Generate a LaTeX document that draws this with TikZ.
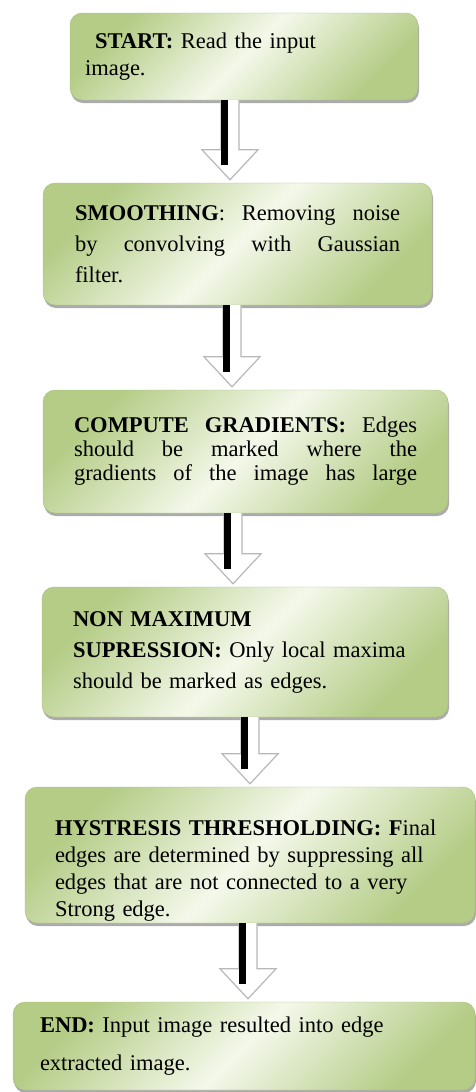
\documentclass[tikz,border=0pt]{standalone}
\usepackage{fontspec}
\setmainfont{Liberation Serif}
\usetikzlibrary{positioning}
\usetikzlibrary{calc, shadows}

\definecolor{boxgreen}{RGB}{180,204,134}
\definecolor{boxlight}{RGB}{244,248,234}
\definecolor{boxedge}{RGB}{170,190,130}

% stretch one line over a given width
\newcommand{\fullline}[2]{\leavevmode\hbox to #1{\spaceskip=0.25em plus 1fil\relax #2}}

% white block arrow with a black stroke on its shaft
\newcommand{\flowarrow}[3]{%
    \coordinate (ax) at (#3,0);
    \filldraw[arrowbody] ($(ax |- #1.south)+(-9,0)$) -- ($(ax |- #2.north)+(-9,33)$)
        -- ($(ax |- #2.north)+(-28,33)$) -- ($(ax |- #2.north)+(0,3)$)
        -- ($(ax |- #2.north)+(28,33)$) -- ($(ax |- #2.north)+(9,33)$)
        -- ($(ax |- #1.south)+(9,0)$);
    \draw[shaft] ($(ax |- #1.south)+(-5.5,0)$) -- ($(ax |- #2.north)+(-5.5,18)$);
}

\begin{document}
\begin{tikzpicture}[x=1pt, y=1pt,
    main/.style = {draw=boxedge, rounded corners=12pt, left color=boxgreen, right color=boxgreen,
        middle color=boxlight, shading angle=45, align=left, inner xsep=0pt, inner ysep=0pt,
        drop shadow={shadow xshift=1pt, shadow yshift=-3pt, fill=black!55, opacity=.6},
        font=\fontsize{22.5}{27}\selectfont},
    arrowbody/.style = {fill=white, draw=black!28, line width=1.2pt, line join=miter},
    shaft/.style = {line width=7pt, black}]
    \useasboundingbox (0,0) rectangle (476,-1092);

    \node[main, minimum width=348, minimum height=87, text width=318] (A) at (244,-56.5)
        {\hspace*{10pt}\textbf{START:} Read the input\\ image.};
    \node[main, minimum width=389, minimum height=122, text width=325,
        font=\fontsize{22.5}{31}\selectfont] (B) at (237.5,-244)
        {\fullline{325pt}{\textbf{SMOOTHING}: Removing noise}\\
         \fullline{325pt}{by convolving with Gaussian}\\ filter.};
    \node[main, minimum width=405, minimum height=123, text width=343,
        font=\fontsize{22.5}{24}\selectfont] (C) at (245.5,-451.5)
        {\fullline{343pt}{\textbf{COMPUTE GRADIENTS:} Edges}\\
         \fullline{343pt}{should be marked where the}\\
         \fullline{343pt}{gradients of the image has large}};
    \node[main, minimum width=406, minimum height=130, text width=344,
        font=\fontsize{22.5}{31}\selectfont] (D) at (245,-652)
        {\textbf{NON MAXIMUM}\\ \textbf{SUPRESSION:} Only local maxima\\ should be marked as edges.};
    \node[main, minimum width=450, minimum height=136, text width=390, text height=46pt] (E) at (250,-855)
        {\textbf{HYSTRESIS THRESHOLDING: F}inal\\ edges are determined by suppressing all\\
         edges that are not connected to a very\\ Strong edge.};
    \node[main, minimum width=462, minimum height=88, text width=408,
        font=\fontsize{22.5}{38}\selectfont] (F) at (244,-1046)
        {\textbf{END:} Input image resulted into edge\\ extracted image.};

    \flowarrow{A}{B}{230}
    \flowarrow{B}{C}{232}
    \flowarrow{C}{D}{233}
    \flowarrow{D}{E}{250}
    \flowarrow{E}{F}{248}

\end{tikzpicture}
\end{document}
